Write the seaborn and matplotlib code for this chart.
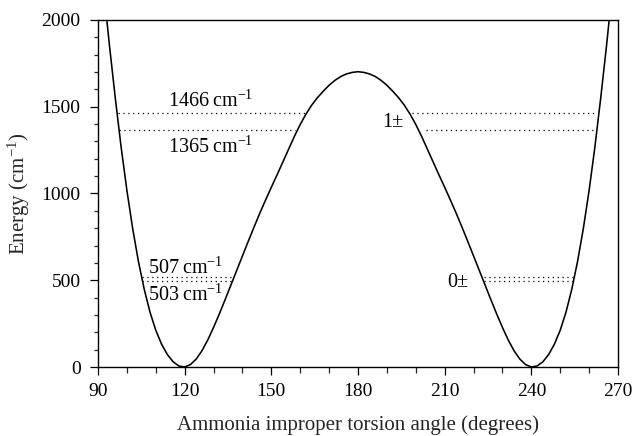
import matplotlib
matplotlib.use("Agg")
import matplotlib.pyplot as plt
from matplotlib.ticker import MultipleLocator
import seaborn as sns
import pandas as pd

# Potential curve (degrees, cm^-1)
angle = [92, 94, 96, 98, 100, 102, 104, 106, 108, 110, 112, 114, 116, 118, 120,
         122, 124, 126, 128, 130, 132, 134, 136, 138, 140, 142, 144, 146, 148, 150,
         152, 154, 156, 158, 160, 162, 164, 166, 168, 170, 172, 174, 176, 178, 180,
         182, 184, 186, 188, 190, 192, 194, 196, 198, 200, 202, 204, 206, 208, 210,
         212, 214, 216, 218, 220, 222, 224, 226, 228, 230, 232, 234, 236, 238, 240,
         242, 244, 246, 248, 250, 252, 254, 256, 258, 260, 262, 264, 266, 268]
energy = [2168, 1848, 1548, 1268, 1018, 798, 608, 448, 316, 212, 132, 72, 30, 6, 0,
          14, 46, 94, 156, 228, 306, 388, 472, 556, 640, 724, 806, 886, 962, 1036,
          1108, 1182, 1256, 1330, 1398, 1458, 1510, 1553, 1590, 1624, 1652, 1674, 1689, 1698, 1702,
          1698, 1689, 1674, 1652, 1624, 1590, 1553, 1510, 1458, 1398, 1330, 1256, 1182, 1108, 1036,
          962, 886, 806, 724, 640, 556, 472, 388, 306, 228, 156, 94, 46, 14, 0,
          6, 30, 72, 132, 212, 316, 448, 608, 798, 1018, 1268, 1548, 1848, 2168]

# Vibrational levels (as drawn) and their extents in each well
level_energy = [1466, 1365, 516, 496]
level_left_start = [96.8, 97.3, 105.2, 105.2]
level_left_end = [161.7, 158.2, 136.3, 136.3]
level_right_start = [198.7, 203.4, 223.6, 223.6]
level_right_end = [262.7, 261.7, 254.8, 254.8]

# Text labels (left edge / baseline positions in data units)
level_labels = ["1466\u2009cm$^{-1}$", "1365\u2009cm$^{-1}$", "507\u2009cm$^{-1}$", "503\u2009cm$^{-1}$"]
level_label_x = [114.2, 114.2, 107.4, 107.4]
level_label_y = [1499, 1233, 536, 382]
state_labels = ["1\u00b1", "0\u00b1"]
state_label_x = [188.3, 210.9]
state_label_y = [1381, 459]

x_ticks = [90, 120, 150, 180, 210, 240, 270]
y_ticks = [0, 500, 1000, 1500, 2000]

sns.set_style("ticks")
plt.rcParams["font.family"] = ["Liberation Serif", "DejaVu Serif"]
plt.rcParams["mathtext.fontset"] = "custom"
plt.rcParams["mathtext.rm"] = "Liberation Serif"
plt.rcParams["mathtext.it"] = "Liberation Serif:italic"
plt.rcParams["mathtext.bf"] = "Liberation Serif:bold"

fig = plt.figure(figsize=(6.34, 4.36), dpi=100)
ax = fig.add_axes([98 / 634, 1 - 367 / 436, 520 / 634, 347 / 436])

df = pd.DataFrame({"angle": angle, "energy": energy})
sns.lineplot(data=df, x="angle", y="energy", ax=ax, color="black", linewidth=1.15,
             sort=False, estimator=None)

for e, a0, a1, b0, b1 in zip(level_energy, level_left_start, level_left_end,
                             level_right_start, level_right_end):
    for s, t in ((a0, a1), (b0, b1)):
        ax.plot([s, t], [e, e], color="black", linewidth=0.9,
                linestyle=(0, (1, 2.9)))

for txt, x, y in zip(level_labels, level_label_x, level_label_y):
    ax.text(x, y, txt, ha="left", va="baseline", fontsize=14.5, color="black")
for txt, x, y in zip(state_labels, state_label_x, state_label_y):
    ax.text(x, y, txt, ha="left", va="baseline", fontsize=14.5, color="black")

ax.set_xlim(90, 270)
ax.set_ylim(0, 2000)
ax.set_xticks(x_ticks)
ax.set_yticks(y_ticks)
ax.xaxis.set_minor_locator(MultipleLocator(10))
ax.yaxis.set_minor_locator(MultipleLocator(100))
ax.tick_params(axis="both", which="major", direction="out", length=6, width=0.9,
               labelsize=14, colors="black", top=False, right=False)
ax.tick_params(axis="x", which="major", pad=5.3)
ax.tick_params(axis="y", which="major", pad=6.5)
ax.tick_params(axis="x", which="minor", direction="out", length=4.3, width=0.9,
               top=False)
ax.tick_params(axis="y", which="minor", direction="out", length=3.1, width=0.9,
               right=False)
for sp in ax.spines.values():
    sp.set_visible(True)
    sp.set_linewidth(1.0)
    sp.set_color("black")

ax.set_xlabel("Ammonia improper torsion angle (degrees)", fontsize=15)
ax.xaxis.label.set_va("baseline")
ax.xaxis.set_label_coords(0.5, (367 - 429.5) / 347)
ax.set_ylabel("Energy (cm$^{-1}$)", fontsize=15)
ax.yaxis.set_label_coords((32 - 98) / 520, 0.5)

fig.savefig("out.png", dpi=100)
